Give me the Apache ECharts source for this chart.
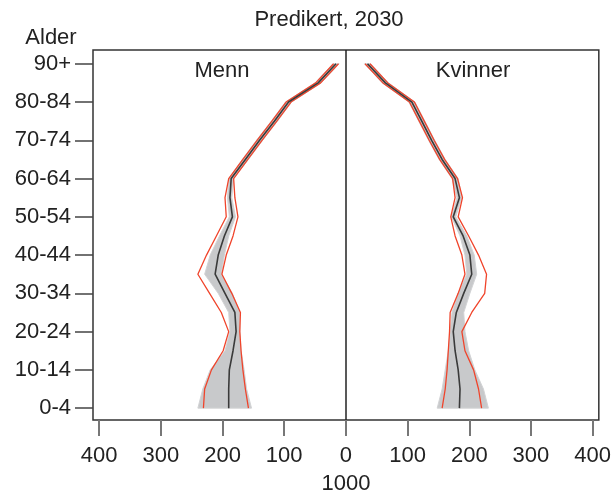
<!DOCTYPE html>
<html>
<head>
<meta charset="utf-8">
<script src="https://cdn.jsdelivr.net/npm/echarts@6/dist/echarts.min.js"></script>
<style>
  html, body { margin: 0; padding: 0; background: #fff; }
  #chart { width: 614px; height: 500px; }
</style>
</head>
<body>
<div id="chart"></div>
<script>
// aldersgrupper, 0-4 nederst
const ages = ["0-4", "5-9", "10-14", "15-19", "20-24", "25-29", "30-34", "35-39", "40-44", "45-49",
    "50-54", "55-59", "60-64", "65-69", "70-74", "75-79", "80-84", "85-89", "90+"]
const xTicks = [-400, -300, -200, -100, 0, 100, 200, 300, 400]
const yTicks = [0, 2, 4, 6, 8, 10, 12, 14, 16, 18]

// menn (1000 personer)
const menMid = [190, 190, 189, 183, 178, 180, 196, 212, 207, 197, 184, 188, 186, 163, 140, 116, 93, 45, 16]
const menRedHi = [231, 229, 218, 199, 190, 202, 221, 240, 226, 210, 194, 196, 190, 167, 144, 120, 97, 49, 20]
const menRedLo = [158, 163, 167, 170, 172, 171, 185, 201, 194, 183, 175, 180, 182, 159, 136, 112, 89, 41, 12]
const menGreyHi = [240, 232, 220, 196, 188, 190, 207, 229, 220, 205, 189, 192, 190, 168, 145, 121, 98, 50, 21]
const menGreyLo = [153, 161, 165, 170, 172, 172, 184, 202, 197, 190, 179, 185, 182, 158, 135, 111, 88, 40, 11]

// kvinner
const womenMid = [184, 185, 182, 177, 174, 179, 191, 204, 201, 190, 174, 184, 177, 156, 139, 123, 107, 64, 35]
const womenRedLo = [156, 161, 164, 166, 168, 169, 182, 193, 188, 177, 170, 177, 173, 152, 135, 119, 103, 60, 31]
const womenRedHi = [220, 215, 207, 193, 188, 204, 225, 228, 215, 199, 182, 189, 181, 160, 143, 127, 111, 68, 39]
const womenGreyLo = [148, 156, 161, 166, 169, 172, 182, 196, 193, 185, 171, 180, 172, 151, 134, 118, 102, 59, 30]
const womenGreyHi = [231, 223, 209, 199, 193, 191, 201, 212, 208, 196, 178, 188, 182, 161, 144, 128, 112, 69, 40]

const font = "Liberation Sans, Arial, sans-serif"
const textColor = "#222"

function pairs(values, sign) {
    return values.map((v, i) => [sign * v, i])
}

function band(lo, hi, sign) {
    return {
        type: "custom",
        silent: true,
        z: 1,
        data: ages.map((a, i) => [sign * lo[i], i]),
        renderItem: function (params, api) {
            if (params.dataIndex !== 0) return null
            const pts = []
            lo.forEach((v, i) => pts.push(api.coord([sign * v, i])))
            for (let i = hi.length - 1; i >= 0; i--) pts.push(api.coord([sign * hi[i], i]))
            return {
                type: "polygon",
                shape: { points: pts },
                style: { fill: "#c8c9cb", stroke: "#d2d3d5", lineWidth: 1 },
            }
        },
    }
}

function line(values, sign, color, width) {
    return {
        type: "line",
        data: pairs(values, sign),
        showSymbol: false,
        silent: true,
        z: 3,
        lineStyle: { color, width },
    }
}

const red = "#f0442b"
const dark = "#3a3a3a"

const chart = echarts.init(document.getElementById("chart"), null, { renderer: "canvas" })
chart.setOption({
    animation: false,
    backgroundColor: "#fff",
    textStyle: { fontFamily: font },
    grid: {
        left: 93, right: 13, top: 50, bottom: 78,
        show: true, borderColor: "#333", borderWidth: 1.5, backgroundColor: "transparent",
    },
    xAxis: {
        type: "value",
        min: -410,
        max: 410,
        name: "1000",
        nameLocation: "middle",
        nameGap: 53,
        nameTextStyle: { fontSize: 22, color: textColor, fontFamily: font },
        axisLine: { show: false, onZero: false },
        splitLine: { show: false },
        axisTick: { customValues: xTicks, length: 16, lineStyle: { color: "#777", width: 2 } },
        axisLabel: {
            customValues: xTicks,
            formatter: (v) => String(Math.abs(v)),
            fontSize: 22, color: textColor, fontFamily: font, margin: 25,
        },
    },
    yAxis: {
        type: "value",
        min: -0.62,
        max: 18.72,
        axisLine: { show: false, onZero: false },
        splitLine: { show: false },
        axisTick: { customValues: yTicks, length: 18, lineStyle: { color: "#444", width: 1.5 } },
        axisLabel: {
            customValues: yTicks,
            formatter: (v) => ages[Math.round(v)],
            fontSize: 22, color: textColor, fontFamily: font, margin: 22,
        },
    },
    graphic: [
        { type: "text", x: 329, y: 20, style: { text: "Predikert, 2030", font: "22px " + font, fill: textColor, align: "center", verticalAlign: "middle" } },
        { type: "text", x: 51, y: 38, style: { text: "Alder", font: "22px " + font, fill: textColor, align: "center", verticalAlign: "middle" } },
        { type: "text", x: 222, y: 71, style: { text: "Menn", font: "22px " + font, fill: textColor, align: "center", verticalAlign: "middle" } },
        { type: "text", x: 473, y: 71, style: { text: "Kvinner", font: "22px " + font, fill: textColor, align: "center", verticalAlign: "middle" } },
    ],
    series: [
        band(menGreyLo, menGreyHi, -1),
        band(womenGreyLo, womenGreyHi, 1),
        line(menRedHi, -1, red, 1.3),
        line(menRedLo, -1, red, 1.3),
        line(womenRedLo, 1, red, 1.3),
        line(womenRedHi, 1, red, 1.3),
        line(menMid, -1, dark, 1.6),
        Object.assign(line(womenMid, 1, dark, 1.6), {
            markLine: {
                silent: true,
                symbol: "none",
                label: { show: false },
                lineStyle: { color: "#222", width: 1.5, type: "solid" },
                data: [{ xAxis: 0 }],
            },
        }),
    ],
})
</script>
</body>
</html>
